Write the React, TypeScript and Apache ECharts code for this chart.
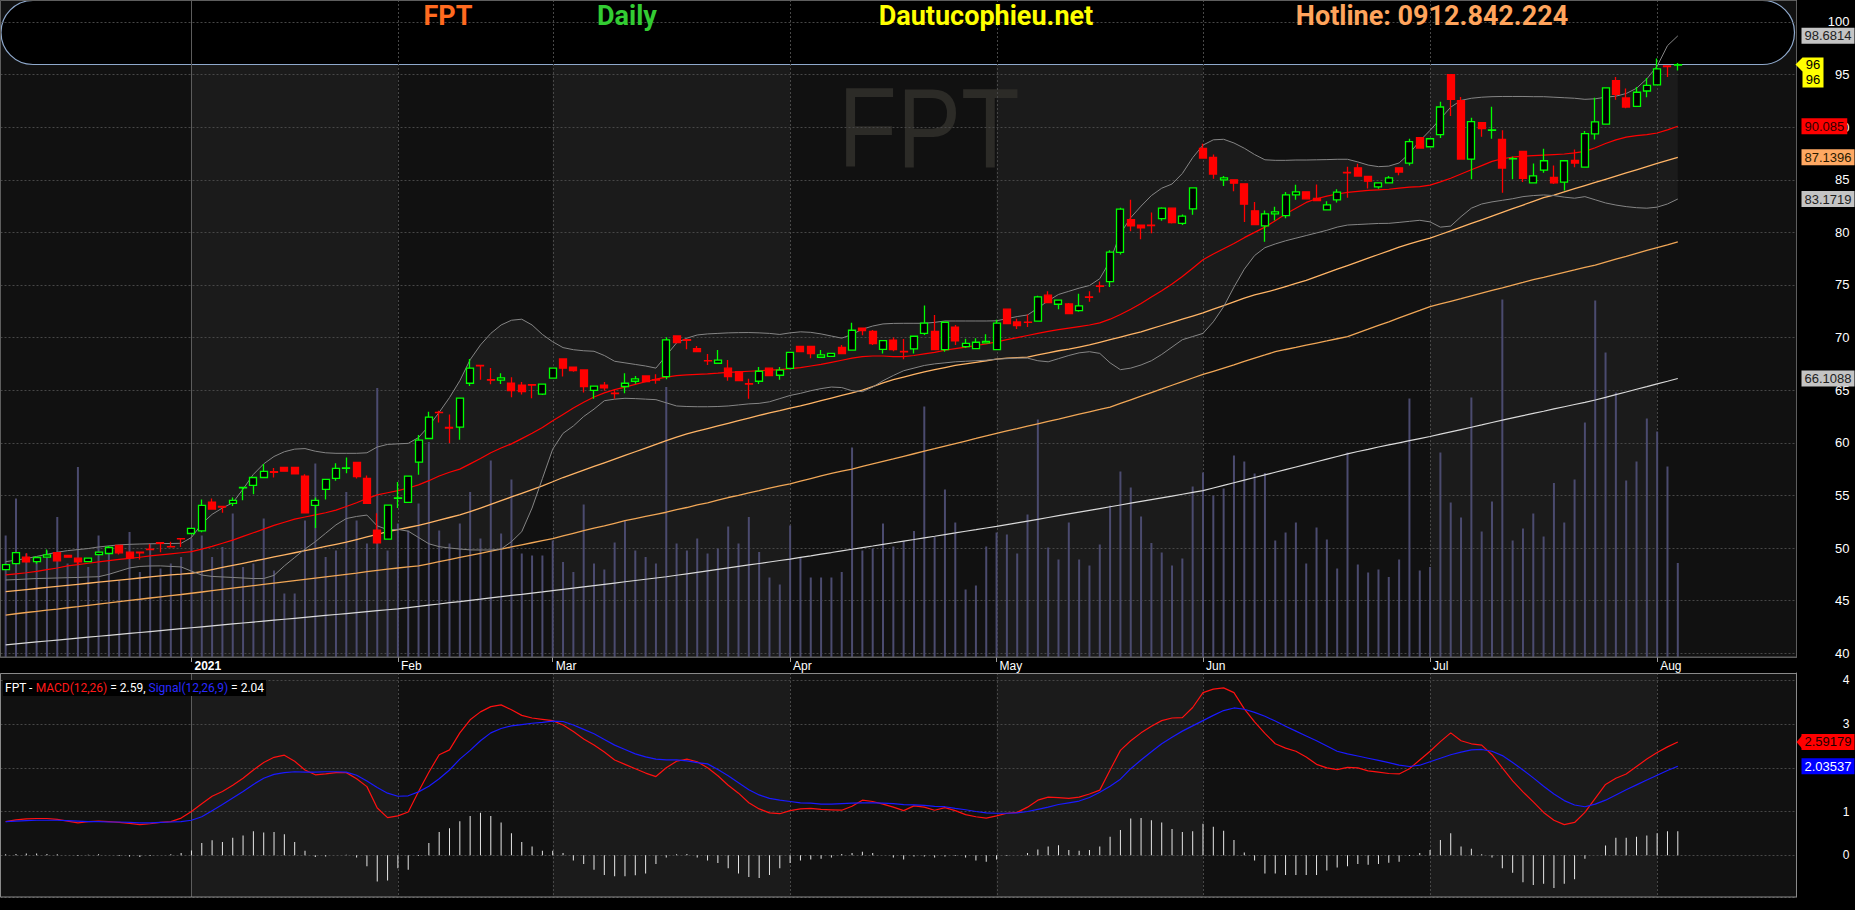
import React, { useEffect, useRef } from "react";
import * as echarts from "echarts";

// ---------- data ----------
const monthDays = [
  { y: 2020, m: 12, d: [8, 9, 10, 11, 14, 15, 16, 17, 18, 21, 22, 23, 24, 25, 28, 29, 30, 31] },
  { y: 2021, m: 1, d: [4, 5, 6, 7, 8, 11, 12, 13, 14, 15, 18, 19, 20, 21, 22, 25, 26, 27, 28, 29] },
  { y: 2021, m: 2, d: [1, 2, 3, 4, 5, 8, 9, 17, 18, 19, 22, 23, 24, 25, 26] },
  { y: 2021, m: 3, d: [1, 2, 3, 4, 5, 8, 9, 10, 11, 12, 15, 16, 17, 18, 19, 22, 23, 24, 25, 26, 29, 30, 31] },
  { y: 2021, m: 4, d: [1, 2, 5, 6, 7, 8, 9, 12, 13, 14, 15, 16, 19, 20, 22, 23, 26, 27, 28, 29] },
  { y: 2021, m: 5, d: [4, 5, 6, 7, 10, 11, 12, 13, 14, 17, 18, 19, 20, 21, 24, 25, 26, 27, 28, 31] },
  { y: 2021, m: 6, d: [1, 2, 3, 4, 7, 8, 9, 10, 11, 14, 15, 16, 17, 18, 21, 22, 23, 24, 25, 28, 29, 30] },
  { y: 2021, m: 7, d: [1, 2, 5, 6, 7, 8, 9, 12, 13, 14, 15, 16, 19, 20, 21, 22, 23, 26, 27, 28, 29, 30] },
  { y: 2021, m: 8, d: [2, 3, 4] },
];
const MONTH_NAMES = ["Jan", "Feb", "Mar", "Apr", "May", "Jun", "Jul", "Aug", "Sep", "Oct", "Nov", "Dec"];
const PAD_SLOTS = 11;

// [open, close, low, high]
const candles = [
  [47.95, 48.43, 47.9, 48.5], [48.52, 49.57, 48.45, 49.62], [49.13, 48.68, 48.6, 49.5], [48.71, 49.1, 48.5, 49.15], [49.13, 49.35, 49.1, 49.86],
  [49.57, 48.78, 48.75, 49.6], [49.29, 49.13, 49.1, 49.33], [49.03, 48.68, 48.4, 49.05], [48.71, 49.03, 48.68, 49.06], [49.38, 49.6, 49.35, 49.65],
  [49.48, 50.05, 49.4, 50.2], [50.24, 49.54, 49.38, 50.3], [49.6, 49.06, 49.0, 49.62], [49.6, 49.55, 48.9, 49.62], [49.9, 49.85, 49.78, 50.37],
  [50.5, 50.45, 49.6, 50.52], [50.14, 50.1, 50.05, 50.6], [50.9, 50.87, 50.1, 50.92], [51.38, 51.86, 51.3, 51.9], [51.63, 54.05, 51.5, 54.6],
  [54.37, 53.7, 53.65, 54.7], [53.95, 53.9, 53.35, 53.97], [54.24, 54.52, 54.0, 54.8], [55.72, 55.76, 54.55, 55.8], [55.95, 56.7, 55.1, 56.75],
  [56.7, 57.29, 56.65, 57.98], [57.25, 57.2, 56.7, 57.6], [57.67, 57.3, 57.25, 57.7], [57.67, 57.06, 57.0, 57.7], [56.84, 53.35, 53.3, 57.0],
  [54.05, 54.52, 51.9, 54.8], [55.57, 56.52, 54.6, 56.55], [56.62, 57.57, 56.4, 58.05], [57.58, 57.62, 57.1, 58.6], [58.14, 56.78, 56.6, 58.18],
  [56.62, 54.24, 54.2, 56.9], [51.7, 50.5, 50.4, 53.3], [50.85, 54.08, 50.8, 54.1], [54.73, 54.77, 53.8, 56.27], [54.33, 56.83, 54.3, 56.86],
  [58.17, 60.25, 56.96, 60.75], [60.41, 62.44, 60.35, 62.94], [62.9, 62.86, 61.93, 63.04], [61.46, 61.4, 59.97, 62.7], [61.49, 64.24, 60.29, 64.3],
  [65.66, 67.09, 65.4, 67.97], [67.36, 67.32, 66.0, 67.38], [66.0, 65.95, 65.57, 67.1], [65.95, 66.17, 65.6, 66.6], [65.66, 64.97, 64.33, 66.23],
  [65.47, 64.87, 64.6, 65.78], [65.52, 65.48, 64.24, 65.54], [64.62, 65.57, 64.55, 65.62], [66.14, 67.09, 66.1, 67.12], [67.97, 67.09, 66.3, 68.0],
  [67.18, 66.87, 66.75, 67.2], [66.93, 65.35, 64.78, 66.95], [64.99, 65.38, 64.18, 65.42], [65.47, 65.22, 64.95, 65.78], [64.72, 64.68, 64.18, 65.1],
  [65.35, 65.66, 64.7, 66.6], [65.85, 66.08, 65.62, 66.36], [66.36, 65.82, 65.8, 66.4], [66.0, 65.96, 65.62, 66.51], [66.3, 69.78, 66.04, 70.03],
  [70.16, 69.53, 69.5, 70.2], [69.8, 69.75, 68.9, 69.83], [68.96, 68.67, 68.6, 69.2], [67.82, 67.78, 67.4, 68.45], [67.56, 67.85, 67.5, 68.83],
  [67.09, 66.3, 65.9, 67.88], [66.77, 65.92, 65.88, 66.8], [65.62, 65.58, 64.18, 66.08], [65.85, 66.8, 65.6, 67.2], [67.09, 66.39, 66.35, 67.12],
  [66.42, 66.9, 66.0, 67.2], [67.08, 68.6, 67.0, 68.65], [69.17, 68.67, 68.6, 69.2], [69.17, 68.48, 68.03, 69.2], [68.13, 68.35, 68.1, 68.83],
  [68.22, 68.51, 68.2, 68.55], [69.08, 68.48, 68.45, 69.3], [68.8, 70.7, 68.78, 71.4], [70.89, 70.67, 70.22, 70.92], [70.6, 69.43, 69.3, 70.73],
  [68.89, 69.71, 68.48, 69.75], [69.75, 68.86, 68.7, 70.0], [68.7, 68.65, 67.94, 69.87], [68.92, 70.13, 68.48, 70.16], [70.41, 71.37, 70.25, 73.05],
  [70.6, 68.86, 68.83, 72.16], [68.86, 71.46, 68.66, 71.49], [71.0, 69.68, 69.3, 71.2], [69.14, 69.46, 69.02, 69.9], [68.95, 69.56, 68.92, 69.95],
  [69.49, 69.65, 69.47, 70.32], [68.86, 71.37, 68.8, 71.7], [72.7, 71.33, 71.3, 72.73], [71.49, 71.14, 70.82, 71.8], [71.48, 71.44, 71.0, 72.19],
  [71.56, 73.87, 71.53, 73.97], [74.03, 73.33, 73.3, 74.41], [73.17, 73.56, 72.7, 73.6], [73.2, 72.29, 72.25, 73.3], [72.57, 73.02, 72.45, 74.16],
  [73.87, 73.82, 73.4, 74.4], [74.92, 74.88, 74.28, 75.33], [75.33, 78.13, 74.8, 78.3], [78.1, 82.22, 77.9, 82.35], [81.2, 80.63, 80.1, 83.1],
  [80.7, 80.44, 79.35, 80.75], [80.69, 80.65, 79.92, 81.9], [81.3, 82.3, 81.1, 82.4], [82.3, 80.93, 80.85, 82.35], [80.85, 81.55, 80.7, 81.7],
  [82.24, 84.24, 81.67, 84.3], [87.98, 87.06, 87.0, 88.43], [87.13, 85.54, 85.1, 87.4], [85.0, 85.19, 84.4, 85.35], [85.0, 84.68, 83.92, 85.03],
  [84.62, 82.68, 81.0, 84.65], [82.05, 80.75, 80.7, 82.9], [80.62, 81.76, 79.1, 82.08], [81.76, 81.95, 81.13, 82.43], [81.6, 83.57, 81.35, 83.83],
  [83.57, 83.86, 83.1, 84.52], [83.86, 83.19, 83.15, 83.9], [83.22, 83.03, 83.0, 84.56], [82.14, 82.62, 82.1, 82.97], [83.1, 83.83, 82.84, 84.1],
  [85.7, 85.65, 83.29, 86.24], [86.14, 85.35, 85.3, 86.52], [85.32, 84.87, 84.17, 85.35], [84.33, 84.71, 84.14, 84.75], [84.71, 85.19, 84.68, 85.35],
  [86.14, 85.73, 85.44, 86.17], [86.59, 88.62, 86.35, 88.9], [89.0, 88.02, 87.98, 89.05], [88.14, 88.9, 88.1, 88.95], [89.29, 91.92, 88.97, 92.43],
  [95.0, 92.65, 91.06, 95.03], [92.52, 86.97, 86.95, 92.87], [86.97, 90.52, 85.06, 90.9], [90.43, 89.86, 89.1, 90.46], [89.71, 89.75, 88.9, 91.95],
  [88.84, 86.11, 83.76, 89.7], [86.98, 87.02, 85.06, 87.2], [87.7, 85.13, 84.78, 87.73], [84.71, 85.38, 84.68, 86.56], [85.92, 86.81, 85.67, 87.95],
  [85.22, 84.71, 84.6, 86.37], [84.78, 86.81, 83.98, 86.84], [86.84, 86.59, 86.2, 87.89], [86.2, 89.38, 86.15, 89.63], [89.36, 90.5, 88.84, 92.8],
  [90.3, 93.73, 90.25, 93.8], [94.43, 93.13, 92.62, 94.78], [92.78, 91.92, 91.79, 93.67], [91.98, 93.32, 91.95, 93.83], [93.44, 93.98, 92.84, 94.68],
  [94.02, 95.54, 93.98, 96.52], [95.82, 95.76, 94.78, 95.85], [95.9, 95.95, 95.4, 96.1],
];

// volume, millions of shares
const volumes = [
  2.43, 3.17, 2.07, 2.0, 2.13, 2.8, 1.87, 3.8, 1.8, 2.43, 2.2, 1.53, 2.5, 1.7, 2.27, 1.77, 1.87, 2.0, 2.37, 2.43,
  2.0, 2.2, 2.87, 1.8, 1.87, 2.77, 1.73, 1.27, 1.27, 2.73, 3.87, 2.0, 2.13, 3.3, 2.73, 2.27, 5.38, 2.13, 2.67, 2.53,
  3.07, 4.3, 2.53, 2.27, 2.67, 3.3, 2.37, 3.93, 2.47, 3.55, 2.07, 2.03, 2.03, 2.33, 1.9, 1.7, 3.05, 1.87, 1.75, 2.29,
  2.73, 2.13, 2.0, 1.87, 5.4, 2.27, 2.13, 2.37, 2.07, 2.17, 2.61, 2.27, 2.8, 2.1, 1.59, 1.45, 2.63, 2.0, 1.59, 1.59,
  1.59, 1.7, 4.19, 2.13, 2.17, 2.67, 2.21, 2.32, 2.52, 5.01, 2.4, 3.35, 2.69, 1.35, 1.43, 2.21, 2.49, 2.45, 2.07, 2.85,
  4.75, 2.19, 1.95, 2.69, 1.95, 1.83, 2.25, 3.03, 3.71, 3.39, 2.81, 2.28, 2.09, 1.83, 1.97, 3.41, 3.69, 3.23, 3.37, 4.03,
  3.91, 3.67, 3.68, 2.33, 2.49, 2.69, 1.87, 2.59, 2.35, 1.77, 4.09, 1.85, 1.69, 1.75, 1.6, 1.95, 5.17, 1.73, 1.8, 4.09,
  3.09, 2.79, 5.19, 2.51, 3.11, 7.15, 2.33, 2.57, 2.87, 2.41, 3.48, 2.69, 3.55, 4.69, 7.13, 6.09, 5.29, 3.53, 3.91, 4.77,
  4.51, 3.81, 1.88,
];

const ma20 = [
  47.45, 47.55, 47.65, 47.78, 47.95, 48.1, 48.3, 48.42, 48.55, 48.68, 48.8, 48.92, 49.02, 49.12, 49.25, 49.35, 49.45, 49.55, 49.65, 49.9,
  50.15, 50.45, 50.75, 51.1, 51.45, 51.8, 52.15, 52.45, 52.75, 52.95, 53.15, 53.35, 53.6, 53.95, 54.3, 54.7, 55.05, 55.25, 55.45, 55.7,
  56.0, 56.4, 56.85, 57.2, 57.5, 58.0, 58.5, 59.05, 59.5, 59.9, 60.4, 60.9, 61.45, 62.1, 62.7, 63.3, 63.85, 64.35, 64.75, 65.05,
  65.3, 65.55, 65.8, 66.05, 66.25, 66.38, 66.45, 66.5, 66.55, 66.62, 66.7, 66.75, 66.8, 66.85, 66.9, 66.95, 67.05, 67.15, 67.3, 67.45,
  67.65, 67.85, 68.05, 68.2, 68.25, 68.25, 68.2, 68.2, 68.3, 68.45, 68.6, 68.8, 68.95, 69.1, 69.25, 69.4, 69.6, 69.8, 70.0, 70.2,
  70.4, 70.6, 70.75, 70.9, 71.05, 71.2, 71.4, 71.75, 72.2, 72.7, 73.25, 73.85, 74.45, 75.1, 75.8, 76.6, 77.4, 77.95, 78.45, 78.95,
  79.5, 80.0, 80.5, 81.1, 81.75, 82.3, 82.85, 83.2, 83.45, 83.65, 83.8, 83.9, 84.0, 84.05, 84.1, 84.2, 84.3, 84.35, 84.5, 84.8,
  85.15, 85.55, 85.95, 86.35, 86.75, 87.0, 87.15, 87.25, 87.3, 87.35, 87.4, 87.45, 87.55, 87.7, 88.05, 88.45, 88.8, 89.05, 89.2, 89.3,
  89.45, 89.75, 90.085,
];
const bbUpper = [
  48.7, 48.85, 49.0, 49.2, 49.4, 49.6, 49.75, 49.85, 49.95, 50.1, 50.2, 50.3, 50.35, 50.38, 50.4, 50.42, 50.43, 50.45, 51.0, 52.3,
  53.2, 53.8, 54.3, 55.6, 57.0, 58.0, 58.7, 59.15, 59.4, 59.45, 59.2, 59.05, 59.0, 59.0, 59.0, 59.05, 59.6, 59.85, 59.9, 59.95,
  60.5, 61.6, 62.9, 64.3, 65.9, 67.9, 69.3, 70.4, 71.2, 71.65, 71.75, 71.2, 70.3, 69.6, 69.05, 68.85, 68.75, 68.7, 68.3, 67.75,
  67.6, 67.45, 67.3, 67.1, 68.3, 69.5, 69.95, 70.25, 70.35, 70.4, 70.45, 70.47, 70.48, 70.45, 70.4, 70.3, 70.45, 70.55, 70.5, 70.35,
  70.15, 69.95, 70.3, 70.8, 71.1, 71.3, 71.35, 71.36, 71.36, 71.36, 71.45, 71.58, 71.58, 71.58, 71.58, 71.58, 71.6, 71.8, 72.0, 72.15,
  72.8, 73.5, 74.1, 74.4, 74.7, 74.95, 75.6, 77.3, 79.9, 81.4, 82.5, 83.5, 84.2, 84.6, 85.6, 87.1, 88.3, 88.8, 88.85, 88.5,
  88.0, 87.4, 86.9, 86.85, 86.85, 86.88, 86.88, 86.9, 86.92, 86.95, 86.95, 86.7, 86.4, 86.25, 86.3, 86.6, 87.5, 88.7, 89.7, 90.8,
  91.9, 92.55, 92.75, 92.85, 92.9, 92.92, 92.92, 92.92, 92.9, 92.9, 92.85, 92.8, 92.75, 92.65, 92.7, 92.85, 92.95, 93.2, 93.7, 94.6,
  95.8, 97.75, 98.6814,
];
const bbLower = [
  46.96, 47.0, 47.05, 47.1, 47.12, 47.15, 47.18, 47.2, 47.24, 47.27, 47.5, 47.8, 48.1, 48.25, 48.29, 48.3, 48.25, 48.2, 47.8, 47.43,
  47.3, 47.25, 47.2, 47.15, 47.1, 47.1, 47.4, 48.3, 49.1, 49.9, 50.6, 51.4, 52.2, 52.8, 53.0, 53.13, 52.1, 51.75, 51.77, 51.6,
  51.0, 50.4, 50.13, 50.0, 49.9, 49.82, 49.81, 49.81, 49.9, 50.6, 51.55, 53.8, 56.6, 59.4, 60.9, 61.6, 62.5, 63.2, 64.0, 64.15,
  64.23, 64.2, 64.15, 64.1, 63.8, 63.5, 63.45, 63.43, 63.43, 63.45, 63.5, 63.6, 63.7, 63.75, 63.9, 64.2, 64.5, 64.7, 64.95, 65.15,
  65.3, 65.25, 64.95, 64.86, 65.3, 65.9, 66.4, 66.85, 67.1, 67.35, 67.5, 67.6, 67.7, 67.75, 67.8, 67.85, 67.95, 68.0, 68.05, 68.05,
  67.8, 67.7, 68.0, 68.3, 68.55, 68.66, 68.5, 67.6, 66.95, 67.1, 67.4, 67.8, 68.4, 69.1, 69.8, 70.1, 70.4, 71.5, 72.94, 74.8,
  76.5, 77.8, 78.55, 78.9, 79.2, 79.45, 79.7, 79.95, 80.2, 80.5, 80.7, 80.75, 80.8, 80.85, 80.86, 80.95, 81.05, 81.15, 81.0, 80.5,
  80.6, 81.5, 82.3, 82.7, 82.9, 83.05, 83.2, 83.4, 83.5, 83.56, 83.5, 83.35, 83.25, 83.4, 83.1, 82.8, 82.6, 82.45, 82.35, 82.3,
  82.4, 82.7, 83.1719,
];
const ma50 = [
  45.85, 45.95, 46.05, 46.15, 46.25, 46.35, 46.45, 46.55, 46.65, 46.75, 46.85, 46.95, 47.05, 47.15, 47.25, 47.35, 47.45, 47.52, 47.6, 47.75,
  47.95, 48.15, 48.35, 48.55, 48.75, 48.95, 49.15, 49.35, 49.55, 49.75, 49.95, 50.15, 50.35, 50.55, 50.8, 51.05, 51.3, 51.55, 51.75, 51.95,
  52.15, 52.4, 52.65, 52.9, 53.15, 53.45, 53.8, 54.15, 54.5, 54.85, 55.2, 55.55, 55.9, 56.3, 56.7, 57.05, 57.4, 57.75, 58.1, 58.45,
  58.8, 59.15, 59.5, 59.85, 60.2, 60.55, 60.85, 61.1, 61.35, 61.6, 61.85, 62.1, 62.35, 62.6, 62.85, 63.05, 63.3, 63.5, 63.75, 64.0,
  64.25, 64.5, 64.75, 65.0, 65.35, 65.7, 66.0, 66.25, 66.5, 66.75, 66.95, 67.15, 67.35, 67.5, 67.65, 67.8, 67.95, 68.05, 68.1, 68.15,
  68.35, 68.55, 68.75, 68.9, 69.1, 69.3, 69.55, 69.8, 70.05, 70.3, 70.55, 70.85, 71.15, 71.45, 71.75, 72.05, 72.35, 72.7, 73.05, 73.4,
  73.75, 74.05, 74.3, 74.55, 74.85, 75.15, 75.45, 75.8, 76.15, 76.5, 76.85, 77.2, 77.55, 77.9, 78.25, 78.6, 78.9, 79.2, 79.45, 79.8,
  80.15, 80.5, 80.85, 81.2, 81.55, 81.9, 82.25, 82.6, 82.95, 83.3, 83.55, 83.85, 84.15, 84.45, 84.75, 85.05, 85.35, 85.65, 85.95, 86.25,
  86.55, 86.85, 87.1396,
];
const ma100 = [
  43.63, 43.75, 43.87, 43.98, 44.1, 44.2, 44.32, 44.43, 44.55, 44.67, 44.78, 44.9, 45.02, 45.13, 45.25, 45.36, 45.47, 45.58, 45.7, 45.82,
  45.94, 46.06, 46.18, 46.3, 46.42, 46.54, 46.66, 46.78, 46.9, 47.02, 47.14, 47.26, 47.38, 47.5, 47.62, 47.75, 47.88, 48.0, 48.1, 48.2,
  48.3, 48.5, 48.7, 48.9, 49.1, 49.3, 49.5, 49.7, 49.9, 50.1, 50.3, 50.5, 50.7, 50.9, 51.15, 51.4, 51.65, 51.9, 52.1, 52.35,
  52.6, 52.8, 53.0, 53.2, 53.4, 53.65, 53.85, 54.1, 54.3, 54.55, 54.8, 55.0, 55.25, 55.45, 55.7, 55.9, 56.1, 56.35, 56.6, 56.85,
  57.1, 57.3, 57.5, 57.75, 57.99, 58.23, 58.47, 58.72, 58.96, 59.2, 59.44, 59.69, 59.93, 60.17, 60.41, 60.66, 60.9, 61.13, 61.35, 61.58,
  61.81, 62.04, 62.26, 62.49, 62.72, 62.95, 63.17, 63.4, 63.75, 64.09, 64.43, 64.78, 65.12, 65.47, 65.81, 66.16, 66.5, 66.8, 67.1, 67.4,
  67.75, 68.05, 68.35, 68.66, 68.87, 69.07, 69.28, 69.48, 69.68, 69.89, 70.09, 70.45, 70.8, 71.16, 71.5, 71.87, 72.23, 72.58, 72.94, 73.2,
  73.45, 73.7, 73.96, 74.22, 74.48, 74.73, 74.99, 75.24, 75.5, 75.73, 75.97, 76.2, 76.43, 76.67, 76.9, 77.18, 77.45, 77.72, 78.0, 78.28,
  78.55, 78.82, 79.1,
];
const ma200 = [
  40.8, 40.89, 40.98, 41.07, 41.16, 41.25, 41.34, 41.43, 41.52, 41.61, 41.7, 41.79, 41.88, 41.97, 42.06, 42.15, 42.24, 42.33, 42.42, 42.51,
  42.6, 42.69, 42.78, 42.87, 42.96, 43.05, 43.14, 43.23, 43.32, 43.41, 43.5, 43.59, 43.68, 43.77, 43.86, 43.95, 44.04, 44.13, 44.22, 44.34,
  44.45, 44.57, 44.68, 44.8, 44.91, 45.03, 45.14, 45.26, 45.37, 45.49, 45.6, 45.72, 45.83, 45.95, 46.07, 46.19, 46.31, 46.43, 46.55, 46.67,
  46.79, 46.91, 47.03, 47.15, 47.27, 47.41, 47.55, 47.69, 47.83, 47.97, 48.11, 48.25, 48.39, 48.53, 48.67, 48.81, 48.95, 49.11, 49.26, 49.42,
  49.57, 49.73, 49.88, 50.04, 50.19, 50.35, 50.5, 50.66, 50.81, 50.97, 51.12, 51.28, 51.43, 51.59, 51.74, 51.9, 52.05, 52.22, 52.39, 52.56,
  52.73, 52.9, 53.07, 53.24, 53.41, 53.58, 53.75, 53.92, 54.09, 54.26, 54.43, 54.6, 54.77, 54.94, 55.11, 55.28, 55.45, 55.7, 55.95, 56.2,
  56.45, 56.7, 56.95, 57.2, 57.45, 57.7, 57.95, 58.2, 58.45, 58.7, 58.95, 59.17, 59.38, 59.6, 59.8, 60.0, 60.2, 60.4, 60.6, 60.82,
  61.04, 61.26, 61.48, 61.7, 61.93, 62.15, 62.37, 62.58, 62.79, 63.0, 63.22, 63.43, 63.64, 63.85, 64.07, 64.32, 64.58, 64.83, 65.09, 65.34,
  65.6, 65.85, 66.1088,
];
const macd = [
  0.77, 0.81, 0.83, 0.84, 0.84, 0.82, 0.78, 0.74, 0.77, 0.78, 0.77, 0.75, 0.73, 0.7, 0.72, 0.75, 0.77, 0.85, 1.0, 1.18,
  1.35, 1.46, 1.6, 1.76, 1.95, 2.12, 2.24, 2.29, 2.15, 1.95, 1.84, 1.86, 1.89, 1.89, 1.75, 1.57, 1.08, 0.86, 0.9, 0.99,
  1.46, 1.9, 2.3, 2.41, 2.8, 3.1, 3.28, 3.4, 3.44, 3.33, 3.2, 3.14, 3.11, 3.08, 2.98, 2.83, 2.66, 2.52, 2.36, 2.18,
  2.08, 1.98, 1.88, 1.8, 2.0, 2.15, 2.2, 2.14, 2.0, 1.82, 1.6, 1.42, 1.2, 1.06, 0.97, 0.95, 1.02, 1.06, 1.07, 1.05,
  1.04, 1.03, 1.12, 1.26, 1.23, 1.17, 1.1, 1.02, 1.13, 1.1, 1.03, 1.09, 1.02, 0.93, 0.88, 0.85, 0.9, 0.96, 0.98, 1.1,
  1.26, 1.33, 1.32, 1.3, 1.33, 1.4, 1.49, 1.95, 2.4, 2.62, 2.8, 2.95, 3.08, 3.14, 3.15, 3.38, 3.72, 3.8, 3.83, 3.72,
  3.35, 3.05, 2.79, 2.55, 2.45, 2.38, 2.25, 2.08, 2.0, 1.96, 2.01, 2.0, 1.93, 1.9, 1.87, 1.86, 1.98, 2.18, 2.38, 2.6,
  2.8, 2.62, 2.55, 2.52, 2.3, 2.0, 1.7, 1.45, 1.22, 0.98, 0.8, 0.7, 0.75, 0.98, 1.3, 1.62, 1.76, 1.86, 2.03, 2.2,
  2.35, 2.48, 2.59179,
];
const signal = [
  0.77, 0.78, 0.79, 0.8, 0.8, 0.8, 0.79, 0.78, 0.77, 0.77, 0.76, 0.76, 0.75, 0.74, 0.74, 0.75, 0.76, 0.77, 0.8, 0.88,
  1.02, 1.16, 1.31, 1.46, 1.62, 1.76, 1.85, 1.89, 1.91, 1.9, 1.9, 1.91, 1.91, 1.9, 1.83, 1.7, 1.55, 1.42, 1.35, 1.36,
  1.45, 1.58, 1.75, 1.95, 2.2, 2.4, 2.62, 2.8, 2.9, 2.96, 2.99, 3.02, 3.04, 3.07, 3.06, 2.98, 2.88, 2.78, 2.65, 2.52,
  2.42, 2.32, 2.25, 2.2, 2.18, 2.18, 2.16, 2.12, 2.09, 1.96, 1.82, 1.66, 1.5, 1.38, 1.3, 1.26, 1.23, 1.2, 1.19, 1.17,
  1.17, 1.18, 1.19, 1.2, 1.2, 1.19, 1.18, 1.16, 1.15, 1.14, 1.12, 1.11, 1.07, 1.04, 1.0, 0.97, 0.96, 0.96, 0.97, 1.0,
  1.05, 1.1, 1.16, 1.2, 1.24, 1.32, 1.44, 1.58, 1.74, 1.98, 2.18, 2.37, 2.55, 2.7, 2.84, 2.96, 3.08, 3.2, 3.31, 3.37,
  3.34, 3.27, 3.18, 3.07, 2.95, 2.84, 2.73, 2.62, 2.5, 2.38, 2.32, 2.27, 2.22, 2.17, 2.12, 2.06, 2.03, 2.06, 2.14, 2.22,
  2.3, 2.36, 2.41, 2.42, 2.38, 2.28, 2.12, 1.95, 1.77, 1.58, 1.4, 1.25, 1.15, 1.11, 1.17, 1.26, 1.38, 1.5, 1.61, 1.72,
  1.83, 1.94, 2.03537,
];
const hist = [
  0.02, 0.03, 0.04, 0.04, 0.03, 0.02, 0, -0.02, 0.01, 0.02, 0, -0.02, -0.03, -0.04, -0.02, 0, 0.02, 0.05, 0.11, 0.28,
  0.34, 0.3, 0.4, 0.45, 0.55, 0.52, 0.53, 0.48, 0.3, 0.1, -0.04, -0.03, 0, 0.01, -0.05, -0.25, -0.6, -0.58, -0.3, -0.33,
  -0.02, 0.28, 0.53, 0.62, 0.78, 0.9, 0.97, 0.9, 0.75, 0.5, 0.3, 0.2, 0.1, 0.1, 0.05, -0.12, -0.2, -0.33, -0.45, -0.48,
  -0.48, -0.46, -0.42, -0.2, -0.05, 0.02, 0.03, -0.05, -0.12, -0.18, -0.3, -0.42, -0.5, -0.52, -0.45, -0.3, -0.18, -0.12, -0.1, -0.08,
  -0.05, 0.03, 0.05, 0.08, 0.05, 0, -0.05, -0.1, -0.03, -0.03, -0.05, -0.03, -0.02, -0.05, -0.12, -0.15, -0.1, -0.02, 0, 0.05,
  0.13, 0.2, 0.23, 0.12, 0.1, 0.12, 0.2, 0.42, 0.58, 0.84, 0.85, 0.8, 0.75, 0.6, 0.53, 0.55, 0.72, 0.65, 0.56, 0.35,
  0.06, -0.12, -0.42, -0.42, -0.45, -0.45, -0.45, -0.45, -0.35, -0.28, -0.25, -0.2, -0.22, -0.2, -0.17, -0.15, -0.02, 0.05, 0.12, 0.35,
  0.5, 0.2, 0.15, 0.02, -0.05, -0.3, -0.4, -0.62, -0.68, -0.65, -0.75, -0.65, -0.55, -0.08, 0, 0.22, 0.4, 0.4, 0.42, 0.45,
  0.5, 0.55, 0.55,
];

// ---------- layout / style ----------
const W = 1855;
const H = 910;
const GRID_LEFT = 0.5;
const GRID_RIGHT = 58.5;
const PLOT_RIGHT = W - GRID_RIGHT;
const MAIN_H = 657;
const MACD_TOP = 673;
const MACD_H = 224;
const PRICE_MIN = 39.64;
const PRICE_MAX = 102.09;
const VOL_MAX = 13.14;
const MACD_MIN = -0.956;
const MACD_MAX = 4.17;
const FONT = "'Liberation Sans', Arial, sans-serif";
const GRID_LINE = "#474747";

// ---------- derived tables ----------
const dates: string[] = [];
const monthStarts: { idx: number; label: string; year: boolean }[] = [];
monthDays.forEach((mo, k) => {
  if (k > 0) {
    monthStarts.push({ idx: dates.length, label: mo.m === 1 ? String(mo.y) : MONTH_NAMES[mo.m - 1], year: mo.m === 1 });
  }
  mo.d.forEach((d) => dates.push(`${mo.y}-${String(mo.m).padStart(2, "0")}-${String(d).padStart(2, "0")}`));
});
const categories = [...dates, ...Array.from({ length: PAD_SLOTS }, (_, i) => `pad${i}`)];
const startMap = new Map(monthStarts.map((s) => [s.idx, s]));
const lightRanges: number[][] = [];
monthStarts.forEach((s, k) => {
  if (k % 2 === 0 && k + 1 < monthStarts.length) lightRanges.push([s.idx, monthStarts[k + 1].idx]);
});
const monthLines = monthStarts.map((s) => [s.idx, s.year ? 1 : 0]);
const bandWidth = bbUpper.map((u, i) => +(u - bbLower[i]).toFixed(4));

const stripeRender = (params: any, api: any) => {
  const cs = params.coordSys;
  const x0 = api.coord([api.value(0), 0])[0];
  const x1 = api.coord([api.value(1), 0])[0];
  return { type: "rect", shape: { x: x0, y: cs.y, width: x1 - x0, height: cs.height }, style: { fill: "#1b1b1b" } };
};
const monthLineRender = (params: any, api: any) => {
  const cs = params.coordSys;
  const x = Math.round(api.coord([api.value(0), 0])[0]) + 0.5;
  const isYear = api.value(1) === 1;
  return {
    type: "line",
    shape: { x1: x, y1: cs.y, x2: x, y2: cs.y + cs.height },
    style: { stroke: isYear ? "#5c5c5c" : GRID_LINE, lineWidth: 1, lineDash: isYear ? null : [2, 2] },
  };
};

const last = (a: number[]) => a[a.length - 1];

// value tags on the right axis: [y-axis index, value, background, text colour, arrow]
const tagSpecs: [number, number, string, string, boolean][] = [
  [0, last(bbUpper), "#c4c4c4", "#222222", false],
  [0, last(ma20), "#ff0000", "#300000", false],
  [0, last(ma50), "#ffa862", "#2a1a00", false],
  [0, last(bbLower), "#c4c4c4", "#222222", false],
  [0, last(ma200), "#c4c4c4", "#222222", false],
  [2, last(macd), "#ff0000", "#200000", true],
  [2, last(signal), "#0000ff", "#ffffff", false],
];

const lineSeries = (name: string, data: number[], color: string, width: number) => ({
  name,
  type: "line",
  xAxisIndex: 0,
  yAxisIndex: 0,
  data,
  symbol: "none",
  silent: true,
  z: 2,
  lineStyle: { color, width },
});

const intLabel = (step: number) => (v: number) => {
  const r = Math.round(v);
  return Math.abs(v - r) < 1e-6 && r % step === 0 ? String(r) : "";
};

const txtStyle = (extra: any) => ({
  textAlign: "center",
  textVerticalAlign: "middle",
  align: "center",
  verticalAlign: "middle",
  ...extra,
});

export default function App() {
  const ref = useRef<HTMLDivElement>(null);

  useEffect(() => {
    if (!ref.current) return;
    document.body.style.margin = "0";
    document.body.style.background = "#000";
    const chart = echarts.init(ref.current, undefined, { renderer: "svg" });

    const gridBase = { left: GRID_LEFT, right: GRID_RIGHT, containLabel: false };
    const hiddenX = (gridIndex: number) => ({
      type: "category",
      gridIndex,
      data: categories,
      boundaryGap: true,
      axisLine: { show: false },
      axisTick: { show: false },
      axisLabel: { show: false },
      splitLine: { show: false },
    });

    const option: any = {
      animation: false,
      backgroundColor: "#000",
      textStyle: { fontFamily: FONT },
      grid: [
        { ...gridBase, top: 0, height: MAIN_H },
        { ...gridBase, top: 0, height: MAIN_H },
        { ...gridBase, top: MACD_TOP, height: MACD_H },
      ],
      xAxis: [
        hiddenX(0),
        {
          type: "category",
          gridIndex: 1,
          data: categories,
          boundaryGap: true,
          axisLine: { show: true, lineStyle: { color: "#5a5a5a" } },
          axisTick: {
            show: true,
            alignWithLabel: true,
            interval: (idx: number) => startMap.has(idx),
            length: 5,
            lineStyle: { color: "#9a9a9a" },
          },
          axisLabel: {
            show: true,
            interval: (idx: number) => startMap.has(idx),
            formatter: (_v: string, idx: number) => {
              const s = startMap.get(idx);
              if (!s) return "";
              return s.year ? `{y|${s.label}}` : `{m|${s.label}}`;
            },
            rich: {
              y: { color: "#ffffff", fontWeight: "bold", fontSize: 12, fontFamily: FONT },
              m: { color: "#ffffff", fontSize: 12, fontFamily: FONT },
            },
            align: "left",
            padding: [0, 0, 0, 3],
            margin: 3,
          },
          splitLine: { show: false },
        },
        hiddenX(2),
      ],
      yAxis: [
        {
          type: "value",
          gridIndex: 0,
          position: "right",
          min: PRICE_MIN,
          max: PRICE_MAX,
          splitNumber: 12,
          axisLine: { show: true, lineStyle: { color: "#8a8a8a" } },
          axisTick: { show: false },
          axisLabel: {
            color: "#ffffff",
            fontSize: 13,
            fontFamily: FONT,
            align: "right",
            margin: 53,
            showMinLabel: false,
            showMaxLabel: false,
            formatter: intLabel(5),
          },
          splitLine: { show: true, lineStyle: { color: GRID_LINE, type: [2, 2], width: 1 } },
        },
        {
          type: "value",
          gridIndex: 1,
          min: 0,
          max: VOL_MAX,
          show: false,
          splitLine: { show: false },
        },
        {
          type: "value",
          gridIndex: 2,
          position: "right",
          min: MACD_MIN,
          max: MACD_MAX,
          splitNumber: 5,
          axisLine: { show: true, lineStyle: { color: "#8a8a8a" } },
          axisTick: { show: false },
          axisLabel: {
            color: "#ffffff",
            fontSize: 12,
            fontFamily: FONT,
            align: "right",
            margin: 53,
            showMinLabel: false,
            showMaxLabel: false,
            formatter: intLabel(1),
          },
          splitLine: { show: true, lineStyle: { color: GRID_LINE, type: [2, 2], width: 1 } },
        },
      ],
      series: [
        { type: "custom", name: "stripesMain", xAxisIndex: 1, yAxisIndex: 1, z: -1, silent: true, renderItem: stripeRender, data: lightRanges },
        { type: "custom", name: "stripesMacd", xAxisIndex: 2, yAxisIndex: 2, z: -1, silent: true, renderItem: stripeRender, data: lightRanges },
        {
          name: "bbBase",
          type: "line",
          xAxisIndex: 0,
          yAxisIndex: 0,
          data: bbLower,
          stack: "band",
          symbol: "none",
          silent: true,
          z: -1,
          lineStyle: { opacity: 0 },
        },
        {
          name: "bbFill",
          type: "line",
          xAxisIndex: 0,
          yAxisIndex: 0,
          data: bandWidth,
          stack: "band",
          symbol: "none",
          silent: true,
          z: -1,
          lineStyle: { opacity: 0 },
          areaStyle: { color: "#1b1b1b", opacity: 1 },
        },
        { type: "custom", name: "monthLinesMain", xAxisIndex: 1, yAxisIndex: 1, z: 0, silent: true, renderItem: monthLineRender, data: monthLines },
        { type: "custom", name: "monthLinesMacd", xAxisIndex: 2, yAxisIndex: 2, z: 0, silent: true, renderItem: monthLineRender, data: monthLines },
        {
          name: "Volume",
          type: "bar",
          xAxisIndex: 1,
          yAxisIndex: 1,
          data: volumes,
          barWidth: 2,
          silent: true,
          z: 1,
          itemStyle: { color: "#4b4b6f" },
        },
        lineSeries("MA200", ma200, "#d9d9d9", 1.2),
        lineSeries("MA100", ma100, "#f0a656", 1.3),
        lineSeries("MA50", ma50, "#ffb466", 1.3),
        lineSeries("BB Upper", bbUpper, "#858585", 1),
        lineSeries("BB Lower", bbLower, "#858585", 1),
        lineSeries("MA20", ma20, "#ff0000", 1.2),
        {
          name: "FPT",
          type: "candlestick",
          xAxisIndex: 0,
          yAxisIndex: 0,
          data: candles,
          barWidth: 7.5,
          silent: true,
          z: 3,
          itemStyle: {
            color: "#000000",
            color0: "#ff0000",
            borderColor: "#00ff00",
            borderColor0: "#ff0000",
            borderWidth: 1.3,
          },
        },
        {
          name: "Histogram",
          type: "bar",
          xAxisIndex: 2,
          yAxisIndex: 2,
          data: hist,
          barWidth: 1,
          silent: true,
          z: 1,
          itemStyle: { color: "#e6e6e6" },
        },
        {
          name: "MACD",
          type: "line",
          xAxisIndex: 2,
          yAxisIndex: 2,
          data: macd,
          symbol: "none",
          silent: true,
          z: 2,
          lineStyle: { color: "#ff1010", width: 1.2 },
        },
        {
          name: "Signal",
          type: "line",
          xAxisIndex: 2,
          yAxisIndex: 2,
          data: signal,
          symbol: "none",
          silent: true,
          z: 2,
          lineStyle: { color: "#1a1aff", width: 1.2 },
        },
      ],
    };

    chart.setOption(option);

    const tx = PLOT_RIGHT;

    // value tags placed through each axis scale
    const tagGraphics: any[] = [];
    tagSpecs.forEach(([axis, value, bg, fg, arrow]) => {
      const py = chart.convertToPixel({ yAxisIndex: axis }, value) as number;
      if (arrow) {
        tagGraphics.push({
          type: "polygon",
          z: 29,
          silent: true,
          shape: { points: [[tx, py], [tx + 6, py - 7], [tx + 6, py + 7]] },
          style: { fill: bg },
        });
      }
      tagGraphics.push({
        type: "text",
        z: 30,
        silent: true,
        x: tx + 5,
        y: py,
        style: {
          text: String(value),
          fontSize: 13,
          fontFamily: FONT,
          fill: fg,
          backgroundColor: bg,
          padding: [2, 3, 1, 3],
          lineHeight: 13,
          textAlign: "left",
          align: "left",
          textVerticalAlign: "middle",
          verticalAlign: "middle",
        },
      });
    });

    // last-price tag (yellow)
    const lastCandle = candles[candles.length - 1];
    const py = chart.convertToPixel({ yAxisIndex: 0 }, lastCandle[1]) as number;
    const lastTxt = String(Math.round(lastCandle[1]));

    const headers = [
      { t: "FPT", x: 448, c: "#ff6a1f" },
      { t: "Daily", x: 627, c: "#33cc33" },
      { t: "Dautucophieu.net", x: 986, c: "#ffff00" },
      { t: "Hotline: 0912.842.224", x: 1432, c: "#ffa45c" },
    ];

    const graphics: any[] = [
      {
        type: "rect",
        z: -2,
        silent: true,
        shape: { x: GRID_LEFT, y: 0, width: PLOT_RIGHT - GRID_LEFT, height: MAIN_H },
        style: { fill: "#111111" },
      },
      {
        type: "rect",
        z: -2,
        silent: true,
        shape: { x: GRID_LEFT, y: MACD_TOP, width: PLOT_RIGHT - GRID_LEFT, height: MACD_H },
        style: { fill: "#111111" },
      },
      {
        type: "text",
        z: -0.8,
        silent: true,
        x: 929,
        y: 128,
        scaleX: 0.85,
        style: txtStyle({ text: "FPT", fontSize: 113, fontFamily: FONT, fill: "#2c2b27" }),
      },
      {
        type: "rect",
        z: -0.5,
        silent: true,
        shape: { x: 1, y: 0.5, width: PLOT_RIGHT - 3, height: 64, r: 32 },
        style: { fill: "#000000", stroke: "#8fa9cc", lineWidth: 1.2 },
      },
      ...headers.map((h) => ({
        type: "text",
        z: 20,
        silent: true,
        x: h.x,
        y: 16,
        style: txtStyle({
          text: h.t,
          fontSize: 27,
          fontWeight: "bold",
          fontFamily: "Roboto, 'Liberation Sans', sans-serif",
          fill: h.c,
        }),
      })),
      {
        type: "text",
        z: 20,
        silent: true,
        x: 3,
        y: 688,
        style: {
          text: `{w|FPT - }{r|MACD(12,26)}{w| = ${last(macd).toFixed(2)}, }{b|Signal(12,26,9)}{w| = ${last(signal).toFixed(2)}}`,
          rich: {
            w: { fill: "#ffffff", color: "#ffffff", fontSize: 12, fontFamily: "Roboto, sans-serif" },
            r: { fill: "#ff1a1a", color: "#ff1a1a", fontSize: 12, fontFamily: "Roboto, sans-serif" },
            b: { fill: "#2a2aff", color: "#2a2aff", fontSize: 12, fontFamily: "Roboto, sans-serif" },
          },
          backgroundColor: "#000000",
          padding: [2, 2, 2, 2],
          textVerticalAlign: "middle",
          verticalAlign: "middle",
        },
      },
      {
        type: "rect",
        z: 15,
        silent: true,
        shape: { x: 0.5, y: 0.5, width: PLOT_RIGHT - 0.5, height: MAIN_H - 0.5 },
        style: { fill: "none", stroke: "#5e5e5e", lineWidth: 1 },
      },
      {
        type: "rect",
        z: 15,
        silent: true,
        shape: { x: 0.5, y: MACD_TOP + 0.5, width: PLOT_RIGHT - 0.5, height: MACD_H - 0.5 },
        style: { fill: "none", stroke: "#8a8a8a", lineWidth: 1 },
      },
      ...tagGraphics,
      {
        type: "polygon",
        z: 30,
        silent: true,
        shape: {
          points: [
            [tx - 1, py],
            [tx + 6, py - 7],
            [tx + 27, py - 7],
            [tx + 27, py + 23],
            [tx + 6, py + 23],
            [tx + 6, py + 7],
          ],
        },
        style: { fill: "#ffff00" },
      },
      {
        type: "text",
        z: 31,
        silent: true,
        x: tx + 16.5,
        y: py,
        style: txtStyle({ text: lastTxt, fontSize: 13, fontFamily: FONT, fill: "#000" }),
      },
      {
        type: "text",
        z: 31,
        silent: true,
        x: tx + 16.5,
        y: py + 15,
        style: txtStyle({ text: lastTxt, fontSize: 13, fontFamily: FONT, fill: "#000" }),
      },
    ];

    chart.setOption({ graphic: graphics });

    return () => {
      chart.dispose();
    };
  }, []);

  return <div ref={ref} style={{ position: "absolute", left: 0, top: 0, width: W, height: H, background: "#000" }} />;
}
